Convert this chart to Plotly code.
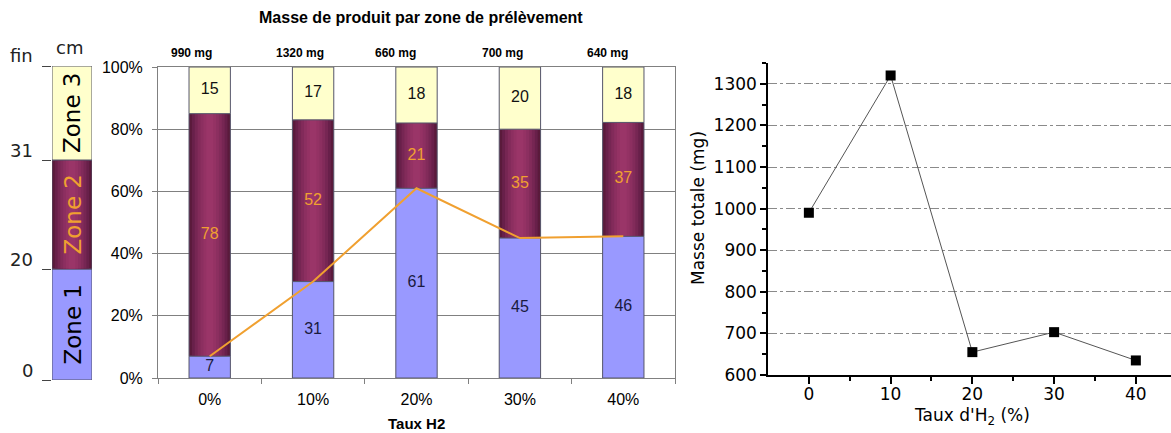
import plotly.graph_objects as go

# ---------------- data ----------------
h2_levels = ["0%", "10%", "20%", "30%", "40%"]
zone1_pct = [7, 31, 61, 45, 46]
zone2_pct = [78, 52, 21, 35, 37]
zone3_pct = [15, 17, 18, 20, 18]
mass_labels = ["990 mg", "1320 mg", "660 mg", "700 mg", "640 mg"]
pct_ticks = [0, 20, 40, 60, 80, 100]
pct_tick_labels = ["0%", "20%", "40%", "60%", "80%", "100%"]

h2_rate = [0, 10, 20, 30, 40]
total_mass_mg = [990, 1320, 655, 703, 635]

zone_names = ["Zone 1", "Zone 2", "Zone 3"]
zone_bound_labels = ["0", "20", "31", "fin"]
zone_draw_len = [111, 109, 94]  # schematic (not to scale) lengths of the sampling column

# ---------------- style ----------------
W, H = 1171, 433
C_Z1 = "#9999FF"
C_Z3 = "#FFFFCC"
C_Z2_EDGE = "#5A1A3B"
C_Z2_STEPS = ["#68204A", "#762653", "#822B5A", "#8C2F60", "#943264", "#9A3568"]
C_ORANGE = "#F0A030"
C_BORDER = "#55556A"
AR = "Liberation Sans, Arial, sans-serif"
DJ = "DejaVu Sans, Verdana, sans-serif"
label_nudge_px = [-18, -13, -21, -17, -16]


def px_x(p):
    return p / W


def px_y(p):
    return (H - p) / H


# 100 % stacked shares (Excel-style normalisation)
totals = [a + b + c for a, b, c in zip(zone1_pct, zone2_pct, zone3_pct)]
p1 = [a / t * 100 for a, t in zip(zone1_pct, totals)]
p2 = [b / t * 100 for b, t in zip(zone2_pct, totals)]
p3 = [c / t * 100 for c, t in zip(zone3_pct, totals)]
base3 = [a + b for a, b in zip(p1, p2)]

fig = go.Figure()
BW = 0.4

# ---- stacked bars: zone 2 with a shaded (cylinder-like) fill
fig.add_trace(go.Bar(x=h2_levels, y=p2, base=p1, width=BW, xaxis="x", yaxis="y",
                     marker=dict(color=C_Z2_EDGE, line=dict(color=C_BORDER, width=1))))
n = len(C_Z2_STEPS)
for k, col in enumerate(C_Z2_STEPS):
    w = BW * (1 - (k + 1) / (n + 1.2))
    fig.add_trace(go.Bar(x=h2_levels, y=p2, base=p1, width=w, xaxis="x", yaxis="y",
                         marker=dict(color=col, line=dict(width=0))))
fig.add_trace(go.Bar(x=h2_levels, y=p1, base=[0] * len(p1), width=BW, xaxis="x", yaxis="y",
                     marker=dict(color=C_Z1, line=dict(color=C_BORDER, width=1))))
fig.add_trace(go.Bar(x=h2_levels, y=p3, base=base3, width=BW, xaxis="x", yaxis="y",
                     marker=dict(color=C_Z3, line=dict(color=C_BORDER, width=1))))

# orange line following the top of zone 1
fig.add_trace(go.Scatter(x=h2_levels, y=p1, mode="lines", xaxis="x", yaxis="y",
                         line=dict(color=C_ORANGE, width=2)))

# segment values
fig.add_trace(go.Scatter(x=h2_levels, y=[v / 2 for v in p1], mode="text", xaxis="x", yaxis="y",
                         text=[str(v) for v in zone1_pct],
                         textfont=dict(family=AR, size=16, color="#1A1A40")))
fig.add_trace(go.Scatter(x=h2_levels, y=[a + b / 2 for a, b in zip(p1, p2)], mode="text",
                         xaxis="x", yaxis="y", text=[str(v) for v in zone2_pct],
                         textfont=dict(family=AR, size=16, color=C_ORANGE)))
fig.add_trace(go.Scatter(x=h2_levels, y=[a + c / 2 for a, c in zip(base3, p3)], mode="text",
                         xaxis="x", yaxis="y", text=[str(v) for v in zone3_pct],
                         textfont=dict(family=AR, size=16, color="#111111")))

# ---- total mass vs H2 rate
fig.add_trace(go.Scatter(x=h2_rate, y=total_mass_mg, mode="lines+markers", xaxis="x2", yaxis="y2",
                         line=dict(color="#555555", width=1),
                         marker=dict(symbol="square", size=10, color="#000000")))

# ---- sampling column (zones)
zone_base = [sum(zone_draw_len[:i]) for i in range(len(zone_draw_len))]
zone_cols = [C_Z1, C_Z2_EDGE, C_Z3]
for i, (b, h) in enumerate(zip(zone_base, zone_draw_len)):
    fig.add_trace(go.Bar(x=[0], y=[h], base=[b], width=1, xaxis="x3", yaxis="y3",
                         marker=dict(color=zone_cols[i], line=dict(color=C_BORDER, width=1))))
    if i == 1:
        for k, col in enumerate(C_Z2_STEPS):
            w = 1 - (k + 1) / (n + 1.2)
            fig.add_trace(go.Bar(x=[0], y=[h - 0.8], base=[b + 0.4], width=w, xaxis="x3", yaxis="y3",
                                 marker=dict(color=col, line=dict(width=0))))

bounds = zone_base + [sum(zone_draw_len)]


def note(text, x, y, xref="paper", yref="paper", **kw):
    d = dict(text=text, x=x, y=y, xref=xref, yref=yref, showarrow=False,
             xanchor=kw.pop("xanchor", "center"), yanchor=kw.pop("yanchor", "middle"))
    d.update(kw)
    return d


annotations = []
# chart title and per-bar masses
annotations.append(note("<b>Masse de produit par zone de prélèvement</b>", px_x(421), px_y(18),
                        font=dict(family=AR, size=16, color="#000")))
for cat, lab, dx in zip(h2_levels, mass_labels, label_nudge_px):
    annotations.append(note(f"<b>{lab}</b>", cat, 100, xref="x", yref="y", yshift=14, xshift=dx,
                            font=dict(family=AR, size=12, color="#000")))
annotations.append(note("<b>Taux H2</b>", px_x(416), px_y(423),
                        font=dict(family=AR, size=15, color="#000")))
# right chart titles
annotations.append(note("Taux d'H<sub>2</sub> (%)", px_x(972), px_y(416),
                        font=dict(family=DJ, size=17, color="#000")))
annotations.append(note("Masse totale (mg)", px_x(698), px_y(208), textangle=-90,
                        font=dict(family=DJ, size=17, color="#000")))
# column labels
for name, b, h in zip(zone_names, zone_base, zone_draw_len):
    annotations.append(note(name, 0, b + h / 2, xref="x3", yref="y3", textangle=-90,
                            font=dict(family=DJ, size=23,
                                      color=C_ORANGE if name == "Zone 2" else "#000")))
for lab, yb in zip(zone_bound_labels, bounds):
    annotations.append(note(lab, px_x(35), yb, yref="y3", xanchor="right", yshift=10,
                            font=dict(family=DJ, size=18, color="#222")))
annotations.append(note("cm", px_x(69), px_y(47), font=dict(family=DJ, size=18, color="#222")))

fig.update_layout(
    width=W, height=H, margin=dict(l=0, r=0, t=0, b=0, pad=0, autoexpand=False),
    autosize=False,
    paper_bgcolor="white", plot_bgcolor="white",
    barmode="overlay", showlegend=False,
    annotations=annotations,
    xaxis=dict(domain=[px_x(158), px_x(675)], type="category", range=[-0.5, 4.5], anchor="y",
               tickson="boundaries", ticks="outside", ticklen=5, tickcolor="#808080",
               showline=True, linecolor="#808080", linewidth=1, mirror=True, showgrid=False,
               tickfont=dict(family=AR, size=16, color="#000"), ticklabelstandoff=7),
    yaxis=dict(domain=[px_y(378), px_y(67)], range=[0, 100], anchor="x",
               tickvals=pct_ticks, ticktext=pct_tick_labels,
               ticks="outside", ticklen=5, tickcolor="#808080", ticklabelstandoff=6,
               showline=True, linecolor="#808080", linewidth=1, mirror=True,
               showgrid=True, gridcolor="#808080", gridwidth=1, zeroline=False,
               tickfont=dict(family=AR, size=16, color="#000")),
    xaxis2=dict(domain=[px_x(768), 1.0], range=[-5, 44.3], anchor="y2",
                tickvals=[0, 10, 20, 30, 40], ticks="outside", ticklen=7, tickwidth=1.5,
                tickcolor="#000", showline=True, linecolor="#000", linewidth=1.5,
                showgrid=False, zeroline=False, ticklabelstandoff=-4,
                minor=dict(tickvals=[5, 15, 25, 35], ticks="outside", ticklen=4, tickcolor="#000"),
                tickfont=dict(family=DJ, size=17, color="#000")),
    yaxis2=dict(domain=[px_y(375), px_y(63)], range=[600, 1350], anchor="x2",
                tickvals=[600, 700, 800, 900, 1000, 1100, 1200, 1300],
                ticks="outside", ticklen=6, tickwidth=1.5, tickcolor="#000",
                showline=True, linecolor="#000", linewidth=1.5, zeroline=False,
                showgrid=True, gridcolor="#8a8a8a", gridwidth=1, griddash="dashdot",
                minor=dict(dtick=50, tick0=650, ticks="outside", ticklen=4, tickcolor="#000",
                           showgrid=False),
                tickfont=dict(family=DJ, size=17, color="#000")),
    xaxis3=dict(domain=[px_x(52), px_x(92)], range=[-0.5, 0.5], anchor="y3", visible=False),
    yaxis3=dict(domain=[px_y(380), px_y(66)], range=[0, sum(zone_draw_len)], anchor="x3",
                tickvals=bounds, ticks="outside", ticklen=9, tickcolor="#444",
                showticklabels=False, showline=False, showgrid=False, zeroline=False),
)

fig.write_html("out.html")
